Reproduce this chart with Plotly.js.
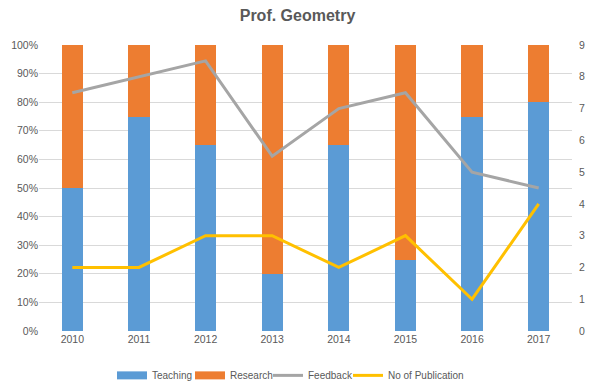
<!DOCTYPE html>
<html><head><meta charset="utf-8">
<script src="https://cdn.plot.ly/plotly-3.0.1.min.js"></script>
<style>body{margin:0;background:#fff}#c{width:595px;height:385px}</style>
</head><body><div id="c"></div>
<script>
const years = ["2010","2011","2012","2013","2014","2015","2016","2017"];
const teaching = [0.50,0.75,0.65,0.20,0.65,0.25,0.75,0.80];
const research = [0.50,0.25,0.35,0.80,0.35,0.75,0.25,0.20];
const feedback = [7.5,8,8.5,5.5,7,7.5,5,4.5];
const publications = [2,2,3,3,2,3,1,4];

const font = {family:"Liberation Sans, Arial, sans-serif", size:10.5, color:"#595959"};
const legFont = {family:"Liberation Sans, Arial, sans-serif", size:10, color:"#595959"};
const blue = "#5B9BD5", orange = "#ED7D31";
const data = [
  {type:"bar", name:"Teaching", x:years, y:teaching, marker:{color:blue}, showlegend:false, legendgroup:"t"},
  {type:"bar", name:"Research", x:years, y:research, marker:{color:orange}, showlegend:false, legendgroup:"r"},
  // legend-only entries so the bar swatches appear as wide rectangles
  {type:"scatter", mode:"lines", name:"Teaching", x:[null], y:[null], line:{color:blue, width:8}, legendgroup:"t", hoverinfo:"skip", legend:"legend"},
  {type:"scatter", mode:"lines", name:"Research", x:[null], y:[null], line:{color:orange, width:8}, legendgroup:"r", hoverinfo:"skip", legend:"legend2"},
  {type:"scatter", mode:"lines", name:"Feedback", x:years, y:feedback, yaxis:"y2", line:{color:"#A5A5A5", width:3}, legend:"legend3"},
  {type:"scatter", mode:"lines", name:"No of Publication", x:years, y:publications, yaxis:"y2", line:{color:"#FFC000", width:3}, legend:"legend4"}
];
const legBase = {orientation:"h", xref:"container", yref:"container", y:0.025, yanchor:"middle", xanchor:"left", font:legFont, traceorder:"normal", itemwidth:30, bgcolor:"rgba(0,0,0,0)"};
const leg = (px) => Object.assign({}, legBase, {x:px/595});
const layout = {
  width:595, height:385,
  margin:{l:39, r:23, t:45, b:54},
  paper_bgcolor:"#fff", plot_bgcolor:"#fff",
  font:font,
  title:{text:"<b>Prof. Geometry</b>", x:0.5, xanchor:"center", y:0.96, yanchor:"middle", font:{family:"Liberation Sans, Arial, sans-serif", size:16, color:"#595959"}},
  barmode:"stack", bargap:0.68,
  showlegend:true,
  legend:leg(112), legend2:leg(190), legend3:leg(268), legend4:leg(348),
  xaxis:{type:"category", showgrid:false, showline:false, ticks:"", tickfont:font, automargin:false},
  yaxis:{range:[0,1], dtick:0.1, tickformat:".0%", gridcolor:"#D9D9D9", zeroline:false, showline:false, ticks:"", tickfont:font, automargin:false},
  yaxis2:{range:[0,9], dtick:1, overlaying:"y", side:"right", showgrid:false, zeroline:false, showline:false, ticks:"", tickfont:font, automargin:false, ticklabelstandoff:6}
};
Plotly.newPlot("c", data, layout, {displayModeBar:false, staticPlot:true});
</script></body></html>
